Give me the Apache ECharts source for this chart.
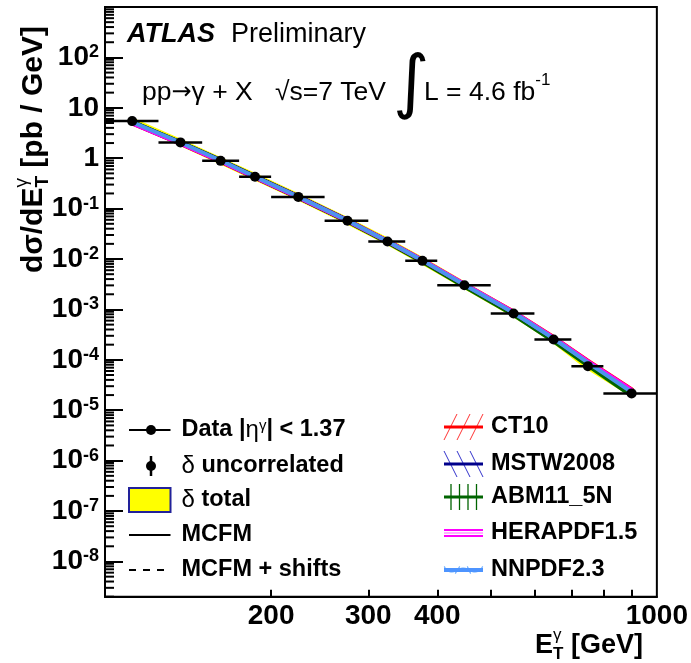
<!DOCTYPE html>
<html><head><meta charset="utf-8">
<script src="https://cdn.jsdelivr.net/npm/echarts@6/dist/echarts.min.js"></script>
<style>html,body{margin:0;padding:0;background:#fff}#c{width:691px;height:663px}</style>
</head><body><div id="c"></div>
<script>
// ---------------- data ----------------
const binLow    = [100, 125, 150, 175, 200, 250, 300, 350, 400, 500, 600, 700, 800];
const binHigh   = [125, 150, 175, 200, 250, 300, 350, 400, 500, 600, 700, 800, 1000];
const binCentre = [112, 137, 162, 187, 224, 275, 325, 376, 448, 550, 650, 750, 900];
const dataXsec  = [5.45, 2.06, 0.887, 0.428, 0.171, 0.0573, 0.0223, 0.0092, 0.00303, 8.33e-4, 2.54e-4, 7.5e-5, 2.16e-5];
const ct10      = [5.00, 1.98, 0.875, 0.420, 0.169, 0.0575, 0.0224, 0.0094, 0.00310, 8.8e-4, 2.75e-4, 9.4e-5, 2.55e-5];
const mstw2008  = [5.15, 2.03, 0.895, 0.428, 0.171, 0.0578, 0.0224, 0.0093, 0.00305, 8.5e-4, 2.60e-4, 8.6e-5, 2.25e-5];
const abm11     = [5.15, 2.02, 0.890, 0.425, 0.169, 0.0565, 0.0218, 0.0090, 0.00292, 8.0e-4, 2.40e-4, 7.9e-5, 2.00e-5];
const herapdf   = [4.95, 1.97, 0.870, 0.420, 0.169, 0.0575, 0.0225, 0.0095, 0.00315, 8.8e-4, 2.72e-4, 9.2e-5, 2.50e-5];
const nnpdf     = [5.20, 2.05, 0.900, 0.430, 0.172, 0.0580, 0.0225, 0.0094, 0.00310, 8.6e-4, 2.65e-4, 8.8e-5, 2.30e-5];

const xTickValues  = [200, 300, 400, 500, 600, 700, 800, 900];
const xLabelValues = [200, 300, 400, 1000];
const yMajorTicks  = [1e-8, 1e-7, 1e-6, 1e-5, 1e-4, 1e-3, 1e-2, 1e-1, 1, 10, 100];
const yMinorTicks  = [];
for (let e = -9; e <= 2; e++) for (let k = 2; k <= 9; k++) yMinorTicks.push(k * Math.pow(10, e));

// ---------------- helpers ----------------
const FONT = 'Liberation Sans, Arial, Helvetica, sans-serif';
const mctx = document.createElement('canvas').getContext('2d');
function tw(t, size, weight, style) { mctx.font = (style || 'normal') + ' ' + (weight || 'normal') + ' ' + size + 'px ' + FONT; return mctx.measureText(t).width; }
const zip = (xs, ys) => xs.map((x, i) => [x, ys[i]]);

function txt(x, y, text, o) {
  return { type: 'text', x: x, y: y, z: 100, style: Object.assign({ text: text, fill: '#000', fontFamily: FONT, fontSize: 23.5, fontWeight: 'bold', align: 'left', verticalAlign: 'middle' }, o || {}) };
}
function ln(x1, y1, x2, y2, color, w, dash) {
  return { type: 'line', z: 100, shape: { x1: x1, y1: y1, x2: x2, y2: y2 }, style: { stroke: color, lineWidth: w, lineDash: dash || null } };
}

const richLegend = {
  g: { fontFamily: FONT, fontSize: 24, fontWeight: 'normal', fill: '#000' },
  sup: { fontFamily: FONT, fontSize: 15, fontWeight: 'normal', verticalAlign: 'top', fill: '#000' }
};

// ---------------- graphic ----------------
const G = [];
G.push(txt(127, 35, 'ATLAS', { fontSize: 27, fontStyle: 'italic' }));
G.push(txt(231, 35, 'Preliminary', { fontSize: 27, fontWeight: 'normal' }));
G.push(txt(142, 93, 'pp{a|\u2192}\u03b3 + X', { fontSize: 26.5, fontWeight: 'normal', rich: { a: { fontFamily: 'DejaVu Sans', fontSize: 24, fill: '#000' } } }));
G.push(txt(275, 93, '\u221as=7 TeV', { fontSize: 26.5, fontWeight: 'normal' }));
G.push(txt(393, 87, '\u222b', { fontSize: 70, fontWeight: 'normal', fontFamily: 'DejaVu Sans' }));
G.push(txt(424, 93, 'L = 4.6 fb', { fontSize: 26.5, fontWeight: 'normal' }));
G.push(txt(424 + tw('L = 4.6 fb', 26.5), 80, '-1', { fontSize: 17, fontWeight: 'normal' }));

// legend left column
const LX1 = 129, LX2 = 170.5, LT = 181.5;
const rows = [430, 466, 500, 535, 570];
G.push(ln(LX1, rows[0], LX2, rows[0], '#000', 2));
G.push({ type: 'circle', z: 100, shape: { cx: 151, cy: rows[0], r: 5 }, style: { fill: '#000' } });
G.push(txt(LT, rows[0], 'Data |{g|\u03b7}{sup|\u03b3}| < 1.37', { rich: richLegend }));
G.push(ln(151, rows[1] - 10, 151, rows[1] + 10, '#000', 2.5));
G.push({ type: 'circle', z: 100, shape: { cx: 151, cy: rows[1], r: 5 }, style: { fill: '#000' } });
G.push(txt(LT, rows[1], '{g|\u03b4} uncorrelated', { rich: richLegend }));
G.push({ type: 'rect', z: 100, shape: { x: LX1, y: rows[2] - 12, width: LX2 - LX1, height: 24 }, style: { fill: '#ffff00', stroke: '#22229a', lineWidth: 2 } });
G.push(txt(LT, rows[2], '{g|\u03b4} total', { rich: richLegend }));
G.push(ln(LX1, rows[3], LX2, rows[3], '#000', 2));
G.push(txt(LT, rows[3], 'MCFM'));
G.push(ln(LX1, rows[4], LX2, rows[4], '#000', 2, [7, 7]));
G.push(txt(LT, rows[4], 'MCFM + shifts'));

// legend right column
const RX1 = 444, RX2 = 483, RT = 491;
const rrows = [427, 464, 497, 533, 570];
for (let i = 0; i < 3; i++) { const x0 = RX1 + i * 13; G.push(ln(x0, rrows[0] + 13, x0 + 13, rrows[0] - 13, '#ff3333', 1)); }
G.push(ln(RX1, rrows[0], RX2, rrows[0], '#ff0000', 3));
G.push(txt(RT, rrows[0], 'CT10'));
for (let i = 0; i < 3; i++) { const x0 = RX1 + i * 13; G.push(ln(x0, rrows[1] - 13, x0 + 13, rrows[1] + 13, '#3333cc', 1)); }
G.push(ln(RX1, rrows[1], RX2, rrows[1], '#00008b', 3));
G.push(txt(RT, rrows[1], 'MSTW2008'));
for (let i = 0; i < 4; i++) { const x0 = RX1 + 7 + i * 8.5; G.push(ln(x0, rrows[2] - 13, x0, rrows[2] + 13, '#006400', 1.3)); }
G.push(ln(RX1, rrows[2], RX2, rrows[2], '#006400', 3));
G.push(txt(RT, rrows[2], 'ABM11_5N'));
G.push(ln(RX1, rrows[3] - 3, RX2, rrows[3] - 3, '#ff00ff', 2));
G.push(ln(RX1, rrows[3] + 3, RX2, rrows[3] + 3, '#ff00ff', 2));
G.push(ln(RX1, rrows[3], RX2, rrows[3], '#ff99ff', 1.5));
G.push(txt(RT, rrows[3], 'HERAPDF1.5'));
G.push({ type: 'arc', z: 100, shape: { cx: 452, cy: rrows[4] - 6, r: 8, startAngle: 0.3, endAngle: Math.PI - 0.3 }, style: { stroke: '#66aaff', lineWidth: 1.2, fill: null } });
G.push({ type: 'arc', z: 100, shape: { cx: 475, cy: rrows[4] - 6, r: 8, startAngle: 0.3, endAngle: Math.PI - 0.3 }, style: { stroke: '#66aaff', lineWidth: 1.2, fill: null } });
G.push({ type: 'arc', z: 100, shape: { cx: 463, cy: rrows[4] + 6, r: 8, startAngle: Math.PI + 0.3, endAngle: 2 * Math.PI - 0.3 }, style: { stroke: '#66aaff', lineWidth: 1.2, fill: null } });
G.push(ln(RX1, rrows[4], RX2, rrows[4], '#4d94ff', 4));
G.push(txt(RT, rrows[4], 'NNPDF2.3'));

// x axis title  E_T^gamma [GeV]
(function () {
  const s = 27, ss = 17, right = 643, cy = 646;
  const wE = tw('E', s, 'bold'), wT = tw('T', ss, 'bold'), wG = tw('\u03b3', ss, 'normal'), wR = tw(' [GeV]', s, 'bold');
  const x0 = right - (wE + Math.max(wT, wG) + wR);
  G.push(txt(x0, cy, 'E', { fontSize: s }));
  G.push(txt(x0 + wE, cy + 8, 'T', { fontSize: ss }));
  G.push(txt(x0 + wE, cy - 11, '\u03b3', { fontSize: ss, fontWeight: 'normal' }));
  G.push(txt(x0 + wE + Math.max(wT, wG), cy, ' [GeV]', { fontSize: s }));
})();
// y axis title (rotated)
(function () {
  const s = 30, ss = 19, cx = 34, top = 26;
  const w1 = tw('d\u03c3/dE', s, 'bold'), wT = tw('T', ss, 'bold'), wG = tw('\u03b3', ss, 'normal'), w2 = tw(' [pb / GeV]', s, 'bold');
  const W = w1 + Math.max(wT, wG) + w2;
  const children = [];
  children.push(txt(-W, 0, 'd\u03c3/dE', { fontSize: s }));
  children.push(txt(-W + w1, 9, 'T', { fontSize: ss }));
  children.push(txt(-W + w1, -12, '\u03b3', { fontSize: ss, fontWeight: 'normal' }));
  children.push(txt(-W + w1 + Math.max(wT, wG), 0, ' [pb / GeV]', { fontSize: s }));
  G.push({ type: 'group', x: cx, y: top, rotation: Math.PI / 2, children: children });
})();

// ---------------- chart ----------------
const chart = echarts.init(document.getElementById('c'), null, { renderer: 'canvas' });
const axisBlack = { color: '#000', width: 2 };

function errBar(params, api) {
  const p1 = api.coord([api.value(0), api.value(2)]);
  const p2 = api.coord([api.value(1), api.value(2)]);
  return { type: 'line', shape: { x1: p1[0], y1: p1[1], x2: p2[0], y2: p2[1] }, style: { stroke: '#000', lineWidth: 2.5 } };
}
// minor ticks of the log y axis (2..9 x 10^n), placed through the axis scales
function minorTick(params, api) {
  const p = api.coord([api.value(0), api.value(1)]);
  return { type: 'line', shape: { x1: p[0], y1: p[1], x2: p[0] + 9, y2: p[1] }, style: { stroke: '#000', lineWidth: 2 } };
}

const bandLine = (name, ys, color, width, z) => ({
  type: 'line', name: name, data: zip(binCentre, ys), symbol: 'none', silent: true, z: z,
  lineStyle: { color: color, width: width, join: 'round', cap: 'round', opacity: 1 }
});

chart.setOption({
  animation: false,
  backgroundColor: '#fff',
  grid: { left: 105, top: 7, right: 33.5, bottom: 66.3, show: true, borderColor: '#000', borderWidth: 2, backgroundColor: 'transparent' },
  xAxis: [{
    type: 'log', logBase: 10, min: 100, max: 1000,
    axisLine: { show: true, lineStyle: axisBlack },
    axisTick: { show: true, inside: true, length: 7, customValues: xTickValues, lineStyle: axisBlack },
    axisLabel: { show: true, customValues: xLabelValues, formatter: v => String(Math.round(v)), fontFamily: FONT, fontSize: 28, fontWeight: 'bold', color: '#000', margin: 6 },
    splitLine: { show: false }, minorTick: { show: false }
  }],
  yAxis: [{
    type: 'log', logBase: 10, min: 2e-9, max: 1e3, position: 'left',
    axisLine: { show: true, lineStyle: axisBlack },
    axisTick: { show: true, inside: true, length: 18, customValues: yMajorTicks, lineStyle: axisBlack },
    axisLabel: {
      show: true, customValues: yMajorTicks, margin: 6,
      formatter: v => { const e = Math.round(Math.log10(v)); if (e === 0) return '{b|1}'; if (e === 1) return '{b|10}'; return '{b|10}{s|' + e + '}'; },
      rich: {
        b: { fontFamily: FONT, fontSize: 28, fontWeight: 'bold', color: '#000' },
        s: { fontFamily: FONT, fontSize: 18, fontWeight: 'bold', color: '#000', verticalAlign: 'top' }
      }
    },
    splitLine: { show: false }, minorTick: { show: false }
  }],
  graphic: G,
  series: [
    { type: 'custom', name: 'minor ticks', z: 1, renderItem: minorTick,
      data: yMinorTicks.filter(v => v >= 2e-9 && v <= 1e3).map(v => [100, v]),
      encode: { x: 0, y: 1 }, silent: true, clip: false },
    bandLine('\u03b4 total', dataXsec, '#ffff00', 7, 2),
    bandLine('CT10', ct10, '#ff0000', 5, 3),
    bandLine('MSTW2008', mstw2008, '#00008b', 5, 4),
    bandLine('ABM11_5N', abm11, '#006400', 5, 5),
    bandLine('HERAPDF1.5', herapdf, '#ff00ff', 4.5, 6),
    bandLine('NNPDF2.3', nnpdf, '#4d94ee', 4, 7),
    { type: 'custom', name: 'bins', z: 9, renderItem: errBar, data: binLow.map((l, i) => [l, binHigh[i], dataXsec[i]]), encode: { x: [0, 1], y: 2 }, silent: true },
    { type: 'scatter', name: 'Data', z: 10, data: zip(binCentre, dataXsec), symbol: 'circle', symbolSize: 10, itemStyle: { color: '#000', opacity: 1 }, silent: true }
  ]
});
</script></body></html>
